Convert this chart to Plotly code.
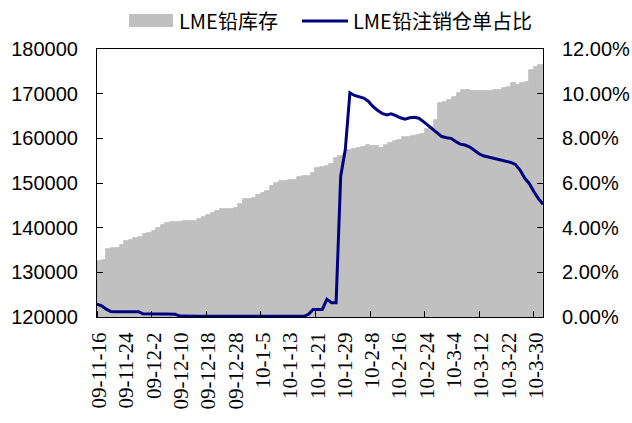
import pandas as pd
import plotly.graph_objects as go

# Categories: every weekday from 2009-11-16 to 2010-03-31
dates = pd.bdate_range("2009-11-16", "2010-03-31")
categories = [f"{d.strftime('%y')}-{d.month}-{d.day}" for d in dates]

inventory = [
    132600, 132800, 135200, 135400, 135500, 136100, 137000, 137300, 137600, 138000,
    138500, 138800, 139300, 139850, 140600, 141100, 141300, 141350, 141350, 141400,
    141500, 141600, 141900, 142400, 142900, 143200, 143700, 144100, 144100, 144200,
    144400, 145300, 146350, 146400, 146600, 147300, 147700, 148300, 149400, 149900,
    150450, 150500, 150600, 150700, 151300, 151500, 151600, 152200, 153400, 153600,
    153700, 154200, 155600, 156000, 156400, 157400, 157700, 157800, 158000, 158400,
    158300, 158200, 157800, 158500, 159000, 159300, 159700, 160200, 160400, 160500,
    160700, 161000, 162000, 162500, 164100, 167800, 168200, 168500, 169300, 170100,
    170800, 170800, 170600, 170600, 170700, 170600, 170700, 170800, 170800, 171200,
    171600, 172300, 172000, 172500, 172600, 175300, 176000, 176400,
]

cancel_ratio = [
    0.0058, 0.0050, 0.0035, 0.0025, 0.0024, 0.0024, 0.0024, 0.0024, 0.0024, 0.0024,
    0.0014, 0.0013, 0.0013, 0.0013, 0.0013, 0.0013, 0.0013, 0.0012, 0.0004, 0.0003,
    0.0003, 0.0003, 0.0003, 0.0003, 0.0003, 0.0003, 0.0003, 0.0003, 0.0003, 0.0003,
    0.0003, 0.0003, 0.0003, 0.0003, 0.0003, 0.0003, 0.0003, 0.0003, 0.0003, 0.0003,
    0.0003, 0.0003, 0.0003, 0.0003, 0.0003, 0.0003, 0.0012, 0.0034, 0.0034, 0.0034,
    0.0079, 0.0064, 0.0064, 0.0630, 0.0750, 0.1004, 0.0992, 0.0987, 0.0980, 0.0966,
    0.0943, 0.0926, 0.0912, 0.0905, 0.0910, 0.0902, 0.0892, 0.0886, 0.0892, 0.0894,
    0.0890, 0.0875, 0.0858, 0.0840, 0.0822, 0.0808, 0.0803, 0.0800, 0.0786, 0.0774,
    0.0770, 0.0762, 0.0748, 0.0732, 0.0722, 0.0717, 0.0714, 0.0708, 0.0705, 0.0698,
    0.0692, 0.0683, 0.0658, 0.0622, 0.0598, 0.0562, 0.0530, 0.0505,
]

label_step = 6
tick_labels = ["09-11-16", "09-11-24", "09-12-2", "09-12-10", "09-12-18", "09-12-28",
               "10-1-5", "10-1-13", "10-1-21", "10-1-29", "10-2-8", "10-2-16",
               "10-2-24", "10-3-4", "10-3-12", "10-3-22", "10-3-30"]

series1_name = "LME铅库存"
series2_name = "LME铅注销仓单占比"

n = len(categories)
idx = list(range(n))
tick_pos = [i * label_step for i in range(len(tick_labels))]
minor_pos = [-0.5 + 12 * k for k in range(9)]

BAR_COLOR = "#C0C0C0"
LINE_COLOR = "#000080"
NUM_FONT = dict(family="Liberation Sans, Arial", size=20, color="black")

fig = go.Figure()
fig.add_trace(go.Bar(x=idx, y=inventory, name=series1_name,
                     marker=dict(color=BAR_COLOR, line=dict(width=0.8, color=BAR_COLOR)),
                     customdata=categories, hovertemplate="%{customdata}: %{y}<extra></extra>"))
fig.add_trace(go.Scatter(x=idx, y=cancel_ratio, name=series2_name, mode="lines",
                         line=dict(color=LINE_COLOR, width=3), xaxis="x2", yaxis="y2",
                         customdata=categories, hovertemplate="%{customdata}: %{y:.2%}<extra></extra>"))

L, R, T, B = 97, 89, 49, 106
W, H = 632, 423
pw, ph = W - L - R, H - T - B

def px(xp):
    return (xp - L) / pw

def py(yp):
    return (H - B - yp) / ph

# custom legend
shapes = [
    dict(type="rect", xref="paper", yref="paper", x0=px(129), x1=px(173), y0=py(27), y1=py(14),
         fillcolor=BAR_COLOR, line=dict(width=0)),
    dict(type="line", xref="paper", yref="paper", x0=px(302), x1=px(348), y0=py(21), y1=py(21),
         line=dict(color=LINE_COLOR, width=3)),
]
legend_font = dict(family="Noto Sans CJK SC", size=20, color="black")
annotations = [
    dict(xref="paper", yref="paper", x=px(177), y=py(20), text=series1_name, showarrow=False,
         xanchor="left", yanchor="middle", font=legend_font),
    dict(xref="paper", yref="paper", x=px(351), y=py(20), text=series2_name, showarrow=False,
         xanchor="left", yanchor="middle", font=legend_font),
]

fig.update_layout(
    width=W, height=H,
    margin=dict(l=L, r=R, t=T, b=B, pad=0, autoexpand=False),
    paper_bgcolor="white", plot_bgcolor="white",
    showlegend=False, bargap=0,
    shapes=shapes, annotations=annotations,
    xaxis=dict(range=[-0.5, n - 0.5], tickmode="array", tickvals=tick_pos, ticktext=tick_labels,
               tickangle=-90, ticks="", showgrid=False, zeroline=False, automargin=False,
               showline=True, linecolor="black", linewidth=1, mirror=True,
               tickfont=dict(family="Liberation Serif, Times New Roman", size=21, color="black"),
               ticklabelstandoff=6,
               minor=dict(tickmode="array", tickvals=minor_pos, ticks="inside", ticklen=6,
                          tickcolor="black", tickwidth=1, showgrid=False)),
    xaxis2=dict(range=[0, n - 1], overlaying="x", visible=False, automargin=False),
    yaxis=dict(range=[120000, 180000], dtick=10000, tick0=120000, ticks="inside", ticklen=6,
               tickcolor="black", showgrid=False, zeroline=False, showline=True, linecolor="black",
               linewidth=1, tickfont=NUM_FONT, tickformat="d", ticklabelstandoff=14, automargin=False),
    yaxis2=dict(range=[0, 0.12], dtick=0.02, tick0=0, overlaying="y", side="right", ticks="inside",
                ticklen=6, tickcolor="black", showgrid=False, zeroline=False, showline=True,
                linecolor="black", linewidth=1, tickfont=NUM_FONT, tickformat=".2%",
                ticklabelstandoff=14, automargin=False),
)

fig.write_html("out.html")
